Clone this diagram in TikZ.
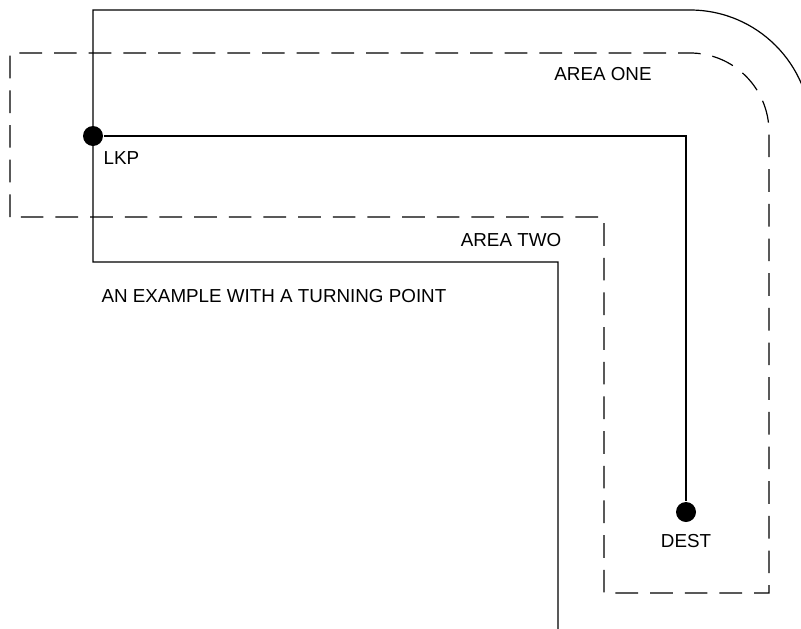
\documentclass[tikz,border=0pt]{standalone}
\usepackage{fontspec}
\setmainfont{Liberation Sans}

\begin{document}
\begin{tikzpicture}[x=0.75pt,y=-0.75pt,line width=0.9pt,
    point node/.style={circle,fill,inner sep=0pt,minimum size=15pt},
    area line/.style={dash pattern=on 17pt off 9pt},
    lbl/.style={font=\fontsize{14.1}{17}\selectfont,inner sep=0pt}]
      \useasboundingbox (0,0) rectangle (801,629);
      \clip (0,0) rectangle (801,629);

      % outer road with the turn
      \draw (558,640) -- (558,262) -- (93,262) -- (93,10) -- (690,10)
            arc[start angle=-90,end angle=0,radius=121];
      % dashed search areas
      \draw[area line] (10,217) -- (10,53) -- (690,53)
            arc[start angle=-90,end angle=0,radius=79]
            -- (769,593) -- (604,593) -- (604,217) -- cycle;

      \node[point node] (lkp) at (93,136) {};
      \node[point node] (dest) at (686,512) {};
      \draw (lkp) -| (dest);

      \node[lbl,anchor=west] (lkplbl) at (103,158) {LKP};
      \node[lbl] (destlbl) at (686,541) {DEST};
      \node[lbl] (one) at (603,74) {AREA ONE};
      \node[lbl] (two) at (511,240) {AREA TWO};
      \node[lbl,anchor=west] (title) at (101,296) {AN EXAMPLE WITH A TURNING POINT};
\end{tikzpicture}
\end{document}
